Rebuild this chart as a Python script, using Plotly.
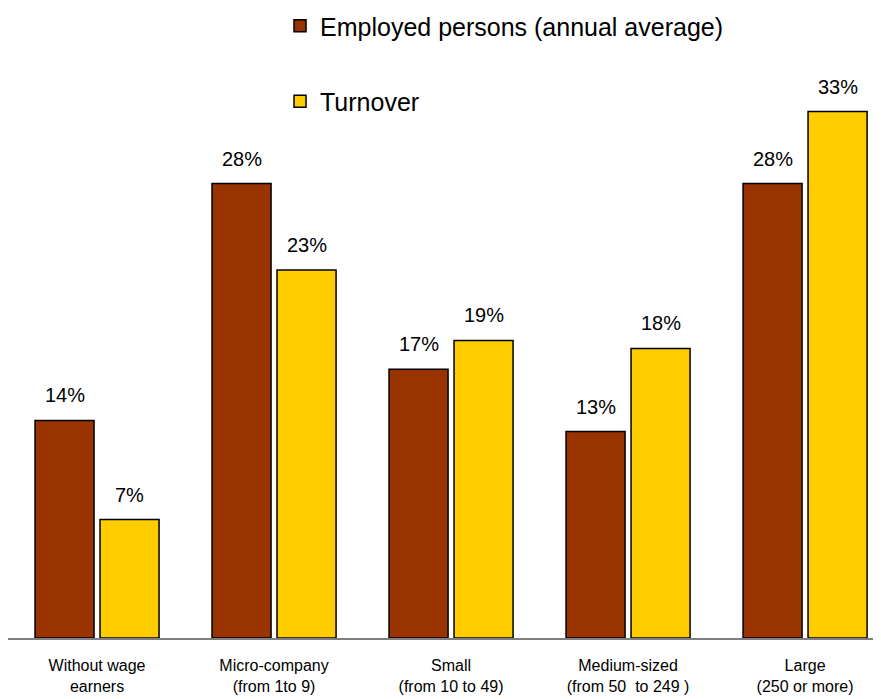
import plotly.graph_objects as go

categories = ["Without wage<br>earners", "Micro-company<br>(from 1to 9)", "Small<br>(from 10 to 49)",
              "Medium-sized<br>(from 50  to 249 )", "Large<br>(250 or more)"]
employed = [13.6, 28.4, 16.8, 12.9, 28.4]
turnover = [7.4, 23.0, 18.6, 18.1, 32.9]
series_names = ["Employed persons (annual average)", "Turnover"]
colors = ["#993300", "#FFCC00"]

FONT = "Liberation Sans, Arial, sans-serif"

fig = go.Figure()
fig.add_trace(go.Bar(x=categories, y=employed, name=series_names[0], legendgroup="a",
                     marker=dict(color=colors[0], line=dict(color="black", width=1.5))))
fig.add_trace(go.Bar(x=categories, y=turnover, name=series_names[1], legendgroup="b",
                     marker=dict(color=colors[1], line=dict(color="black", width=1.5))))

annotations = []
for vals, shift in ((employed, -32.5), (turnover, 32.5)):
    for c, v in zip(categories, vals):
        annotations.append(dict(x=c, y=v, text=f"{v:.0f}%", showarrow=False,
                                xshift=shift, yshift=25, yanchor="middle",
                                font=dict(family=FONT, size=20, color="black")))

fig.update_layout(
    width=881, height=699,
    margin=dict(l=0, r=8, t=92, b=69, autoexpand=False),
    paper_bgcolor="white", plot_bgcolor="white",
    barmode="group", bargap=0.2655, bargroupgap=0.092,
    font=dict(family=FONT, color="black"),
    annotations=annotations,
    showlegend=True,
    legend=dict(x=0.3116, y=1.0678, xanchor="left", yanchor="middle",
                traceorder="grouped", tracegroupgap=40,
                font=dict(family=FONT, size=25, color="black"), bgcolor="rgba(0,0,0,0)"),
    xaxis=dict(range=[-0.503, 4.429], showline=True, linecolor="#808080", linewidth=2,
               ticks="", ticklabelstandoff=12,
               tickfont=dict(family=FONT, size=16, color="black"), showgrid=False),
    yaxis=dict(range=[0, 33.625], visible=False, showgrid=False),
)

fig.write_html("out.html")
